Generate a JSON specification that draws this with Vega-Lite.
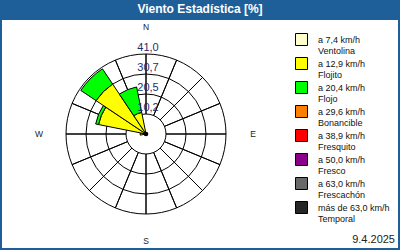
{
  "$schema": "https://vega.github.io/schema/vega-lite/v6.json",
  "background": "#1f5f99",
  "autosize": {"type": "none"},
  "padding": {"left": 2, "top": 20, "right": 2, "bottom": 2},
  "width": 396,
  "height": 228,
  "title": {"text": "Viento Estadística [%]", "color": "white", "font": "Liberation Sans", "fontSize": 12, "fontWeight": "bold", "anchor": "middle", "frame": "group", "offset": 4},
  "config": {"view": {"fill": "white", "stroke": null}},
  "layer": [
    {
      "data": {"values": [{"v": 10.25}, {"v": 20.5}, {"v": 30.75}, {"v": 41}]},
      "mark": {"type": "arc", "filled": false, "stroke": "black", "strokeWidth": 1},
      "encoding": {
        "x": {"value": 144}, "y": {"value": 114},
        "theta": {"datum": 0, "type": "quantitative", "stack": null, "scale": {"domain": [0, 360], "range": [0, 6.283185307179586]}},
        "theta2": {"datum": 360},
        "radius": {"field": "v", "type": "quantitative", "stack": null, "scale": {"type": "linear", "domain": [0, 41], "range": [0, 80]}}
      }
    },
    {
      "data": {"values": [{"deg": 0}, {"deg": 22.5}, {"deg": 45}, {"deg": 67.5}, {"deg": 90}, {"deg": 112.5}, {"deg": 135}, {"deg": 157.5}, {"deg": 180}, {"deg": 202.5}, {"deg": 225}, {"deg": 247.5}, {"deg": 270}, {"deg": 292.5}, {"deg": 315}, {"deg": 337.5}]},
      "mark": {"type": "arc", "filled": false, "stroke": "black", "strokeWidth": 1},
      "encoding": {
        "x": {"value": 144}, "y": {"value": 114},
        "theta": {"field": "deg", "type": "quantitative", "stack": null, "scale": {"domain": [0, 360], "range": [0, 6.283185307179586]}},
        "theta2": {"field": "deg"},
        "radius": {"datum": 41, "type": "quantitative", "stack": null, "scale": {"type": "linear", "domain": [0, 41], "range": [0, 80]}},
        "radius2": {"datum": 10.25}
      }
    },
    {
      "data": {"values": [
        {"dir": "W", "from": 258.75, "to": 281.25, "speed": "a 12,9 km/h|Flojito", "lo": 0, "hi": 3},
        {"dir": "WNW", "from": 281.25, "to": 303.75, "speed": "a 12,9 km/h|Flojito", "lo": 0, "hi": 24.8},
        {"dir": "WNW", "from": 281.25, "to": 303.75, "speed": "a 20,4 km/h|Flojo", "lo": 24.8, "hi": 26.3},
        {"dir": "NW", "from": 303.75, "to": 326.25, "speed": "a 12,9 km/h|Flojito", "lo": 0, "hi": 30.8},
        {"dir": "NW", "from": 303.75, "to": 326.25, "speed": "a 20,4 km/h|Flojo", "lo": 30.8, "hi": 40.2},
        {"dir": "NNW", "from": 326.25, "to": 348.75, "speed": "a 12,9 km/h|Flojito", "lo": 0, "hi": 11.3},
        {"dir": "NNW", "from": 326.25, "to": 348.75, "speed": "a 20,4 km/h|Flojo", "lo": 11.3, "hi": 24.6}
      ]},
      "mark": {"type": "arc", "stroke": "black", "strokeWidth": 1},
      "encoding": {
        "x": {"value": 144}, "y": {"value": 114},
        "theta": {"field": "from", "type": "quantitative", "stack": null, "scale": {"domain": [0, 360], "range": [0, 6.283185307179586]}},
        "theta2": {"field": "to"},
        "radius": {"field": "hi", "type": "quantitative", "stack": null, "scale": {"type": "linear", "domain": [0, 41], "range": [0, 80]}},
        "radius2": {"field": "lo"},
        "color": {
          "field": "speed", "type": "nominal",
          "scale": {
            "domain": ["a 7,4 km/h|Ventolina", "a 12,9 km/h|Flojito", "a 20,4 km/h|Flojo", "a 29,6 km/h|Bonancible", "a 38,9 km/h|Fresquito", "a 50,0 km/h|Fresco", "a 63,0 km/h|Frescachón", "más de 63,0 km/h|Temporal"],
            "range": ["#ffffcc", "#ffff00", "#00ff00", "#ff8000", "#ff0000", "#8b008b", "#696969", "#262626"]
          },
          "legend": {
            "title": null, "orient": "none", "legendX": 293, "legendY": 13,
            "symbolType": "square", "symbolSize": 144, "symbolStrokeColor": "black", "symbolStrokeWidth": 1, "symbolOpacity": 1,
            "labelExpr": "split(datum.label, '|')", "labelFont": "Liberation Sans", "labelFontSize": 9, "labelColor": "#111111",
            "labelOffset": 10, "labelBaseline": "middle", "rowPadding": -1, "labelLimit": 120
          }
        }
      }
    },
    {
      "data": {"values": [{"dot": 1.2}]},
      "mark": {"type": "arc", "color": "black"},
      "encoding": {
        "x": {"value": 144}, "y": {"value": 114},
        "theta": {"datum": 0, "type": "quantitative", "stack": null, "scale": {"domain": [0, 360], "range": [0, 6.283185307179586]}},
        "theta2": {"datum": 360},
        "radius": {"field": "dot", "type": "quantitative", "stack": null, "scale": {"type": "linear", "domain": [0, 41], "range": [0, 80]}}
      }
    },
    {
      "data": {"values": [{"r": 10.25, "label": "10,2"}, {"r": 20.5, "label": "20,5"}, {"r": 30.75, "label": "30,7"}, {"r": 41, "label": "41,0"}]},
      "mark": {"type": "text", "align": "center", "baseline": "bottom", "dx": 2, "dy": -1, "font": "Liberation Sans", "fontSize": 11, "color": "#1b2e6b"},
      "encoding": {
        "x": {"value": 144}, "y": {"value": 114},
        "theta": {"datum": 0, "type": "quantitative", "stack": null, "scale": {"domain": [0, 360], "range": [0, 6.283185307179586]}},
        "radius": {"field": "r", "type": "quantitative", "stack": null, "scale": {"type": "linear", "domain": [0, 41], "range": [0, 80]}},
        "text": {"field": "label"}
      }
    },
    {
      "data": {"values": [{"l": "N", "deg": 0}, {"l": "E", "deg": 90}, {"l": "S", "deg": 180}, {"l": "W", "deg": 270}]},
      "mark": {"type": "text", "align": "center", "baseline": "middle", "font": "Liberation Sans", "fontSize": 8.5, "color": "#222222"},
      "encoding": {
        "x": {"value": 144}, "y": {"value": 114},
        "theta": {"field": "deg", "type": "quantitative", "stack": null, "scale": {"domain": [0, 360], "range": [0, 6.283185307179586]}},
        "radius": {"value": 107},
        "text": {"field": "l"}
      }
    },
    {
      "data": {"values": [{"fecha": "9.4.2025"}]},
      "mark": {"type": "text", "align": "right", "baseline": "bottom", "dx": -3, "dy": -3, "font": "Liberation Sans", "fontSize": 11, "color": "#222222"},
      "encoding": {
        "x": {"value": "width"},
        "y": {"value": "height"},
        "text": {"field": "fecha"}
      }
    }
  ]
}
